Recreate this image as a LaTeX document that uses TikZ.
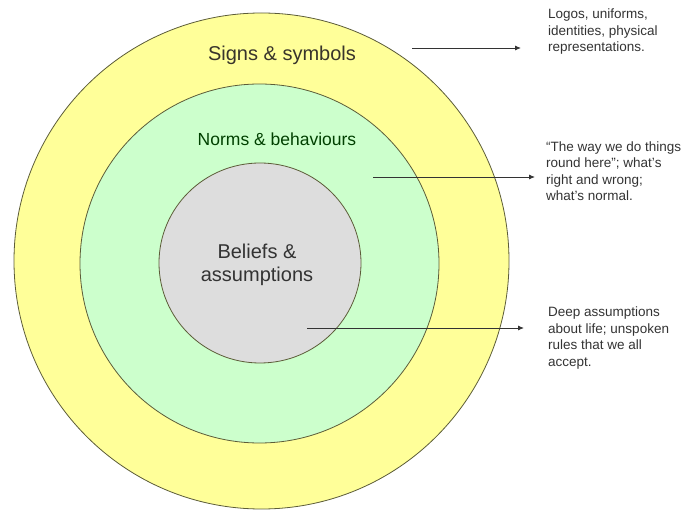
\documentclass[tikz,border=0pt]{standalone}
\usepackage{fontspec}
\setmainfont{Liberation Sans}
\usetikzlibrary{arrows.meta}
\definecolor{ringyellow}{HTML}{FFFF99}
\definecolor{ringgreen}{HTML}{CCFFCC}
\definecolor{ringgrey}{HTML}{DDDDDD}
\definecolor{ringline}{HTML}{5C5C38}
\begin{document}
\begin{tikzpicture}[
  x=1pt, y=-1pt,
  ring/.style={draw=ringline, line width=0.8pt},
  lbl/.style={align=center, inner sep=0pt, font=\fontsize{20}{23}\selectfont},
  note/.style={anchor=west, align=left, inner sep=0pt, text=black!80,
               font=\fontsize{13.5}{16.5}\selectfont},
  arr/.style={-{Latex[length=6pt, width=5pt]}, line width=0.9pt, black!80},
]
\useasboundingbox (0,0) rectangle (688,510);

% Rings
\draw[ring, fill=ringyellow] (261.5,261) ellipse [x radius=247.5, y radius=248];
\draw[ring, fill=ringgreen]  (259.5,263.5) ellipse [x radius=179.5, y radius=179.5];
\draw[ring, fill=ringgrey]   (260,263) ellipse [x radius=101, y radius=100];

% Ring labels
\node[lbl, text=black!80!olive] (SIG) at (282,55)  {Signs \& symbols};
\node[lbl, text=black!75!green, font=\fontsize{17.5}{21}\selectfont]
  (NRM) at (277,139) {Norms \& behaviours};
\node[lbl, text=black!80] (BEL) at (257,265) {Beliefs \&\\assumptions};

% Notes on the right
\node[note] (N1) at (548,32)  {Logos, uniforms,\\identities, physical\\representations.};
\node[note] (N2) at (546,171) {``The way we do things\\round here''; what's\\right and wrong;\\what's normal.};
\node[note] (N3) at (548,338) {Deep assumptions\\about life; unspoken\\rules that we all\\accept.};

% Arrow ends
\coordinate (A1) at (412,48);  \coordinate (B1) at (521,48);
\coordinate (A2) at (373,177); \coordinate (B2) at (535,177);
\coordinate (A3) at (307,328); \coordinate (B3) at (524,328);

% Arrows
\draw[arr] (A1) -- (B1);
\draw[arr] (A2) -- (B2);
\draw[arr] (A3) -- (B3);

\end{tikzpicture}
\end{document}
